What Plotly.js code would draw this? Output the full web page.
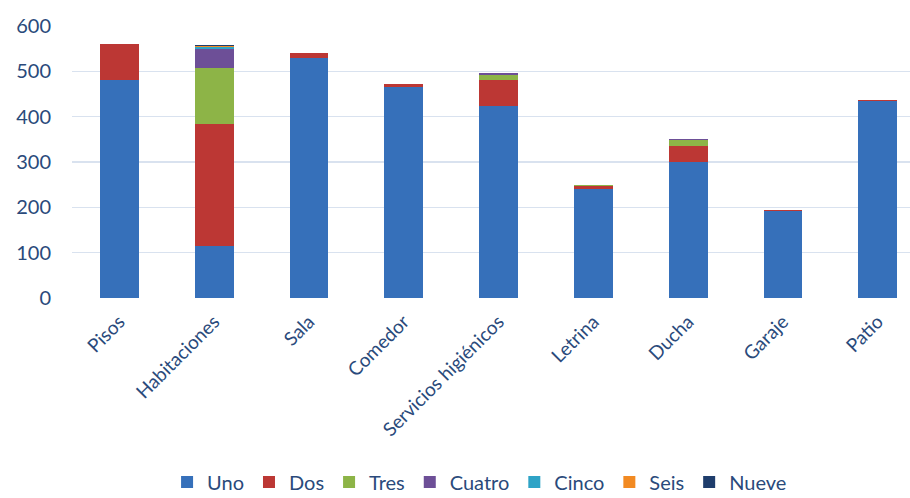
<!DOCTYPE html>
<html>
<head>
<meta charset="utf-8">
<script src="https://cdn.plot.ly/plotly-3.0.1.min.js"></script>
<style>html,body{margin:0;padding:0;background:#fff;}#chart{width:910px;height:498px;}</style>
</head>
<body>
<div id="chart"></div>
<script>
const categories = ["Pisos", "Habitaciones", "Sala", "Comedor", "Servicios higiénicos", "Letrina", "Ducha", "Garaje", "Patio"];
const seriesNames = ["Uno", "Dos", "Tres", "Cuatro", "Cinco", "Seis", "Nueve"];
const uno    = [481, 115, 530, 465, 424, 240, 300, 191, 434];
const dos    = [79, 268, 10, 8, 57, 7, 36, 3, 3];
const tres   = [0, 124, 0, 0, 10, 2, 12, 0, 0];
const cuatro = [0, 42, 0, 0, 5, 0, 2, 0, 0];
const cinco  = [0, 4, 0, 0, 0, 0, 0, 0, 0];
const seis   = [0, 3, 0, 0, 0, 0, 0, 0, 0];
const nueve  = [0, 2, 0, 0, 0, 0, 0, 0, 0];
const seriesValues = [uno, dos, tres, cuatro, cinco, seis, nueve];
const colors = ["#3670BA", "#BC3734", "#8DB447", "#6D4F97", "#2EA3C6", "#F28A22", "#1F3D6C"];

const traces = seriesNames.map((name, i) => ({
  type: "bar",
  name: name,
  x: categories,
  y: seriesValues[i],
  marker: { color: colors[i], line: { width: 0 } },
  hoverinfo: "x+y+name"
}));

const textColor = "#2A4A7B";
const layout = {
  width: 910,
  height: 498,
  barmode: "stack",
  bargap: 0.59,
  paper_bgcolor: "#ffffff",
  plot_bgcolor: "#ffffff",
  margin: { l: 72, r: 0, t: 26, b: 200 },
  font: { family: "Lato, 'Open Sans', sans-serif", color: textColor },
  xaxis: {
    type: "category",
    range: [-0.5, 8.34],
    tickangle: -45,
    tickfont: { size: 19, color: textColor },
    showgrid: false,
    zeroline: false,
    showline: false,
    ticks: "",
    ticklabelstandoff: 8
  },
  yaxis: {
    range: [0, 600],
    dtick: 100,
    tickfont: { size: 20, color: textColor },
    showgrid: true,
    gridcolor: "#D9E2EF",
    gridwidth: 1.5,
    zeroline: false,
    showline: false,
    ticks: "",
    ticklabelstandoff: 20
  },
  showlegend: true,
  legend: {
    orientation: "h",
    xref: "container",
    yref: "container",
    x: 0.527,
    xanchor: "center",
    y: 0.032,
    yanchor: "middle",
    font: { size: 20, color: textColor },
    itemwidth: 30,
    traceorder: "normal",
    bgcolor: "rgba(0,0,0,0)"
  }
};

Plotly.newPlot("chart", traces, layout, { displayModeBar: false, staticPlot: true });
</script>
</body>
</html>
